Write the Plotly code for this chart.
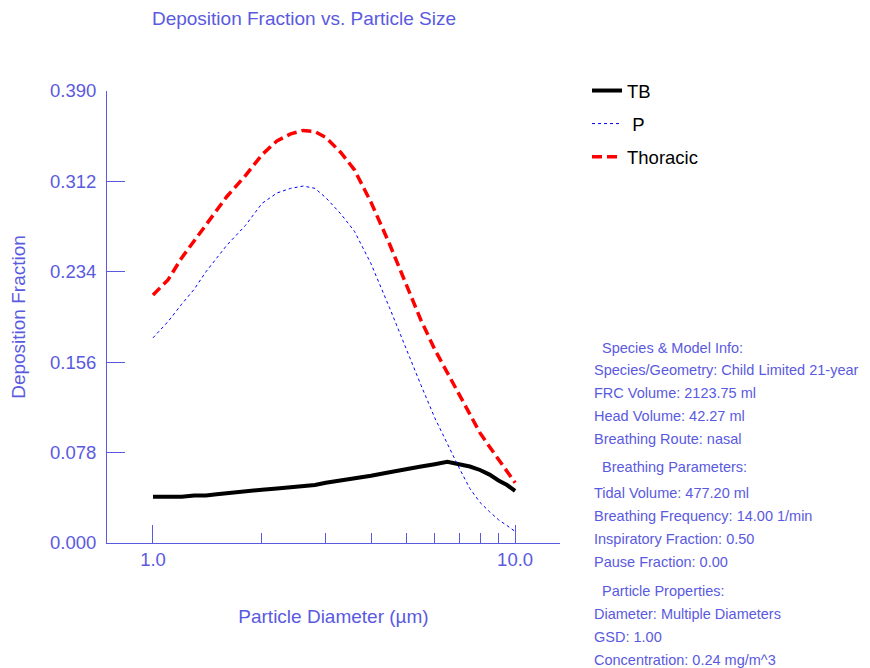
import plotly.graph_objects as go

diameters = [1.0, 1.1, 1.2, 1.3, 1.4, 1.5, 1.6, 1.8, 2.0, 2.2, 2.4, 2.6, 2.8, 3.0, 3.3, 3.6,
             4.0, 4.5, 5.0, 5.5, 6.0, 6.5, 7.0, 7.5, 8.0, 8.5, 9.0, 9.5, 10.0]
tb = [0.040, 0.040, 0.040, 0.041, 0.041, 0.042, 0.043, 0.044, 0.046, 0.047, 0.048, 0.049, 0.050,
      0.052, 0.054, 0.055, 0.058, 0.061, 0.064, 0.066, 0.068, 0.070, 0.068, 0.066, 0.063, 0.059,
      0.054, 0.050, 0.045]
p = [0.177, 0.191, 0.206, 0.219, 0.234, 0.246, 0.257, 0.274, 0.293, 0.302, 0.306, 0.308, 0.306,
     0.298, 0.284, 0.269, 0.241, 0.203, 0.167, 0.136, 0.108, 0.085, 0.065, 0.047, 0.035, 0.027,
     0.020, 0.015, 0.010]
thoracic = [0.214, 0.227, 0.246, 0.261, 0.274, 0.287, 0.299, 0.317, 0.335, 0.347, 0.353, 0.356,
            0.355, 0.350, 0.337, 0.322, 0.294, 0.258, 0.223, 0.192, 0.167, 0.147, 0.128, 0.110,
            0.095, 0.083, 0.072, 0.062, 0.052]

y_ticks = [0.0, 0.078, 0.156, 0.234, 0.312, 0.390]
x_ticks = [1.0, 10.0]
x_tick_labels = ["1.0", "10.0"]
x_minor = [2, 3, 4, 5, 6, 7, 8, 9]

info_lines = [
    ("  Species & Model Info:", 340),
    ("Species/Geometry: Child Limited 21-year", 362),
    ("FRC Volume: 2123.75 ml", 385),
    ("Head Volume: 42.27 ml", 408),
    ("Breathing Route: nasal", 431),
    ("  Breathing Parameters:", 459),
    ("Tidal Volume: 477.20 ml", 485),
    ("Breathing Frequency: 14.00 1/min", 508),
    ("Inspiratory Fraction: 0.50", 531),
    ("Pause Fraction: 0.00", 554),
    ("  Particle Properties:", 583),
    ("Diameter: Multiple Diameters", 606),
    ("GSD: 1.00", 629),
    ("Concentration: 0.24 mg/m^3", 652),
]

BLUE = "#5a5ae0"
FONT = "Liberation Sans, Arial, sans-serif"
W, H = 870, 668
L, T = 99, 83
PW, PH = 453, 452
R, B = W - L - PW, H - T - PH

fig = go.Figure()
fig.add_trace(go.Scatter(x=diameters, y=tb, mode="lines", name="TB", legendgroup="a",
                         line=dict(color="black", width=4)))
fig.add_trace(go.Scatter(x=diameters, y=p, mode="lines", name=" P", legendgroup="b",
                         line=dict(color="blue", width=1, dash="dot")))
fig.add_trace(go.Scatter(x=diameters, y=thoracic, mode="lines", name="Thoracic", legendgroup="c",
                         line=dict(color="red", width=3.5, dash="10px,5px")))

for text, py in info_lines:
    t = text.replace(" ", "&nbsp;") if text.startswith(" ") else text
    fig.add_annotation(text=t, xref="paper", yref="paper",
                       x=(584 - L) / PW, y=(T + PH - py) / PH,
                       xanchor="left", yanchor="middle", showarrow=False,
                       font=dict(family=FONT, size=14.5, color=BLUE))

fig.update_layout(
    width=W, height=H,
    margin=dict(l=L, r=R, t=T, b=B, autoexpand=False),
    plot_bgcolor="white", paper_bgcolor="white",
    font=dict(family=FONT, color=BLUE, size=18.5),
    title=dict(text="Deposition Fraction vs. Particle Size", x=296 / W, xanchor="center",
               y=1 - 10 / H, yanchor="middle", font=dict(size=19, color=BLUE)),
    showlegend=True,
    legend=dict(x=(579 - L) / PW, y=(T + PH - 64) / PH, xanchor="left", yanchor="top",
                font=dict(size=18.5, color="black"), traceorder="grouped", tracegroupgap=6,
                bgcolor="rgba(0,0,0,0)"),
    xaxis=dict(type="log", range=[-0.127, 1.124], tickvals=x_ticks, ticktext=x_tick_labels,
               ticks="inside", ticklen=18, tickcolor=BLUE, showline=True, linecolor=BLUE,
               linewidth=1, showgrid=False, zeroline=False, tickfont=dict(size=18.5, color=BLUE),
               automargin=False,
               minor=dict(tickvals=x_minor, ticks="inside", ticklen=10, tickcolor=BLUE, showgrid=False),
               title=dict(text="Particle Diameter (µm)", standoff=40, font=dict(size=19, color=BLUE))),
    yaxis=dict(range=[0, 0.39], tickvals=y_ticks, tickformat=".3f", ticks="inside", ticklen=18,
               tickcolor=BLUE, showline=True, linecolor=BLUE, linewidth=1, showgrid=False,
               zeroline=False, tickfont=dict(size=18.5, color=BLUE), ticklabelstandoff=6,
               automargin=False,
               title=dict(text="Deposition Fraction", standoff=22, font=dict(size=19, color=BLUE))),
)

fig.write_html("out.html")
